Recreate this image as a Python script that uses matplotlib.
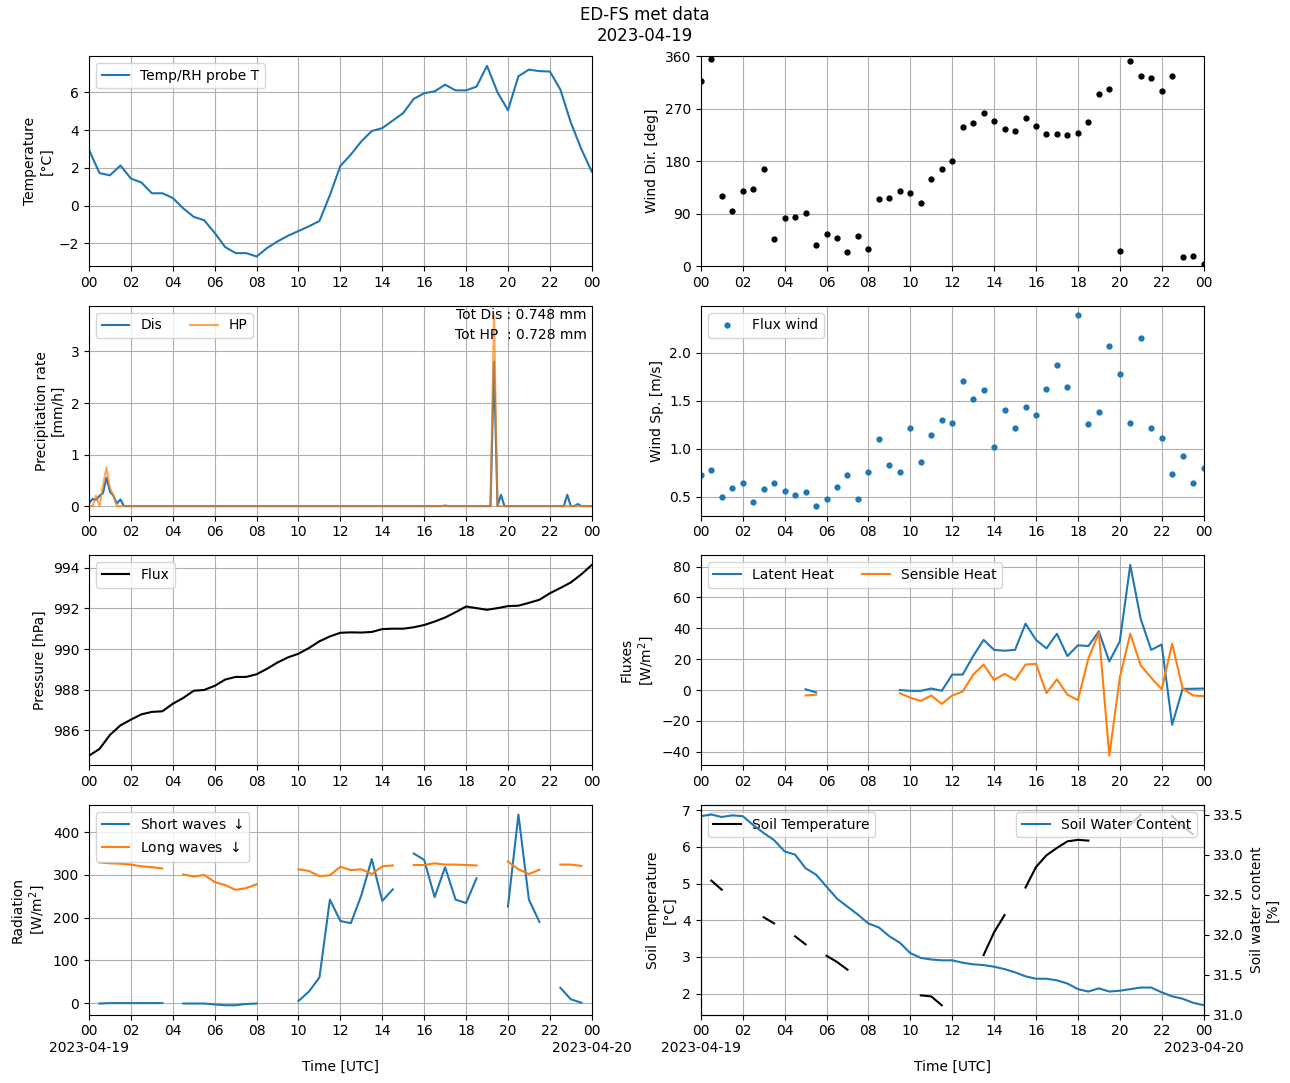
# plot.py
#   daily met data panels for ED-FS station (2023-04-19)

import numpy as np
import pandas as pd
import matplotlib
matplotlib.use('Agg')
from matplotlib import pyplot as plt, dates as mdates, ticker

DAY = '2023-04-19'
TITLE = 'ED-FS met data\n' + DAY

# 30 min data, 00:00 -> 24:00 (49 values)
temp_rh = [2.95, 1.72, 1.6, 2.12, 1.43, 1.22, 0.65, 0.65, 0.4, -0.15,
           -0.6, -0.78, -1.45, -2.2, -2.52, -2.52, -2.7, -2.25, -1.9, -1.6,
           -1.35, -1.1, -0.82, 0.55, 2.1, 2.7, 3.4, 3.95, 4.1, 4.5,
           4.9, 5.65, 5.95, 6.05, 6.4, 6.1, 6.1, 6.3, 7.4, 6.0,
           5.05, 6.85, 7.2, 7.12, 7.1, 6.15, 4.4, 3.0, 1.8]

wind_dir = [317, 355, 120, 94, 129, 132, 166, 46, 82, 84,
            91, 36, 55, 48, 24, 51, 30, 115, 117, 129,
            125, 108, 149, 166, 180, 239, 246, 263, 249, 235,
            232, 254, 241, 227, 227, 225, 228, 247, 296, 304,
            25, 352, 327, 323, 301, 327, 15, 18, 3]

wind_sp = [0.72, 0.78, 0.50, 0.59, 0.64, 0.44, 0.58, 0.64, 0.56, 0.52,
           0.55, 0.40, 0.47, 0.60, 0.72, 0.47, 0.76, 1.10, 0.83, 0.76,
           1.21, 0.86, 1.14, 1.30, 1.27, 1.71, 1.52, 1.61, 1.02, 1.40,
           1.22, 1.43, 1.35, 1.62, 1.87, 1.64, 2.39, 1.26, 1.38, 2.07,
           1.78, 1.27, 2.15, 1.22, 1.11, 0.73, 0.92, 0.64, 0.80]

pressure = [984.76, 985.09, 985.78, 986.25, 986.53, 986.79, 986.91, 986.94, 987.31, 987.6,
            987.95, 987.99, 988.19, 988.5, 988.63, 988.63, 988.76, 989.03, 989.34, 989.59,
            989.77, 990.05, 990.38, 990.62, 990.8, 990.82, 990.81, 990.84, 990.98, 991.0,
            991.0, 991.07, 991.18, 991.35, 991.55, 991.81, 992.09, 992.01, 991.93, 992.01,
            992.11, 992.13, 992.27, 992.42, 992.74, 993.0, 993.27, 993.67, 994.13]

nan = np.nan
latent = [nan, nan, nan, nan, nan, nan, nan, nan, nan, nan,
          0.5, -1.5, nan, nan, nan, nan, nan, nan, nan, 0.0,
          -0.5, -0.5, 1.0, -0.5, 10.0, 10.0, 22.0, 32.5, 26.0, 25.5,
          26.0, 43.0, 32.5, 27.0, 36.5, 22.0, 29.0, 28.5, 38.0, 18.5,
          31.5, 81.0, 46.0, 26.0, 29.5, -22.5, 0.8, 0.8, 1.0]
sensible = [nan, nan, nan, nan, nan, nan, nan, nan, nan, nan,
            -3.5, -3.0, nan, nan, nan, nan, nan, nan, nan, -2.0,
            -5.0, -7.0, -3.5, -9.0, -3.5, -1.0, 10.0, 16.5, 6.5, 10.5,
            6.5, 16.5, 17.0, -2.0, 7.0, -3.0, -6.5, 20.5, 37.0, -42.5,
            8.0, 36.5, 16.0, 8.0, 0.5, 30.0, 1.0, -3.5, -4.0]

short_wave = [nan, -1, 0, 0, 0, 0, 0, 0, nan, -1,
              -1, -1, -3, -5, -5, -2, -1, nan, nan, nan,
              5, 27, 60, 242, 192, 187, 252, 337, 239, 266,
              nan, 350, 335, 248, 318, 242, 234, 292, nan, nan,
              226, 441, 242, 190, nan, 36, 9, 1, nan]
long_wave = [nan, 329, 327, 326, 324, 320, 318, 315, nan, 301,
             296, 300, 283, 276, 265, 269, 278, nan, nan, nan,
             313, 309, 297, 299, 319, 311, 313, 302, 320, 322,
             nan, 323, 323, 327, 324, 324, 323, 322, nan, nan,
             331, 313, 302, 312, nan, 324, 324, 321, nan]

soil_temp = [nan, 5.08, 4.83, nan, nan, nan, 4.08, 3.91, nan, 3.56,
             3.34, nan, 3.03, 2.86, 2.65, nan, nan, nan, nan, nan,
             nan, 1.95, 1.92, 1.68, nan, nan, nan, 3.05, 3.67, 4.14,
             nan, 4.89, 5.45, 5.77, 5.97, 6.15, 6.19, 6.17, nan, nan,
             nan, 6.6, 6.88, nan, nan, 6.84, 6.56, 6.34, nan]
soil_water = [33.48, 33.50, 33.47, 33.49, 33.48, 33.37, 33.27, 33.18, 33.04, 33.0,
              32.83, 32.75, 32.6, 32.45, 32.35, 32.25, 32.14, 32.09, 31.98, 31.90,
              31.77, 31.71, 31.69, 31.68, 31.68, 31.65, 31.63, 31.62, 31.60, 31.57,
              31.53, 31.48, 31.45, 31.45, 31.43, 31.39, 31.32, 31.29, 31.33, 31.29,
              31.30, 31.32, 31.34, 31.34, 31.28, 31.23, 31.20, 31.15, 31.12]

# 10 min precipitation, only non zero records
dis_times = ['00:00', '00:10', '00:20', '00:30', '00:40', '00:50', '01:00', '01:10',
             '01:20', '01:30', '17:00', '19:20', '19:40', '22:50', '23:20']
dis_vals = [0.05, 0.14, 0.12, 0.2, 0.25, 0.55, 0.28, 0.2,
            0.05, 0.13, 0.01, 2.8, 0.22, 0.22, 0.04]
hp_times = ['00:20', '00:40', '00:50', '01:00', '01:10', '19:20']
hp_vals = [0.2, 0.4, 0.75, 0.35, 0.2, 3.7]
TOT_DIS = 0.748
TOT_HP = 0.728


def hour_fmt(x, pos=None):
    return mdates.num2date(x).strftime('%H')


def hour_date_fmt(x, pos=None):
    d = mdates.num2date(x)
    if d.hour == 0:
        return d.strftime('%H\n%Y-%m-%d')
    return d.strftime('%H')


def precip_series(index, times, vals):
    s = pd.Series(0.0, index=index)
    for t, v in zip(times, vals):
        s[pd.Timestamp(DAY + ' ' + t)] = v
    return s


def setup_time_axis(ax, t0, t1, bottom=False):
    ax.set_xlim(t0, t1)
    ax.xaxis.set_major_locator(mdates.HourLocator(byhour=range(0, 24, 2)))
    if bottom:
        ax.xaxis.set_major_formatter(ticker.FuncFormatter(hour_date_fmt))
        ax.set_xlabel('Time [UTC]')
    else:
        ax.xaxis.set_major_formatter(ticker.FuncFormatter(hour_fmt))
    ax.grid(True)


def main():
    t0 = pd.Timestamp(DAY)
    t1 = t0 + pd.Timedelta('1D')
    t = pd.date_range(t0, t1, freq='30min')
    tp = pd.date_range(t0, t1, freq='10min')
    dis = precip_series(tp, dis_times, dis_vals)
    hp = precip_series(tp, hp_times, hp_vals)

    fig, axs = plt.subplots(4, 2, figsize=(12.9, 10.83))
    fig.subplots_adjust(left=0.069, right=0.933, top=0.948, bottom=0.063,
                        wspace=0.217, hspace=0.19)
    fig.suptitle(TITLE, y=0.994)

    # temperature
    ax = axs[0, 0]
    ax.plot(t, temp_rh, label='Temp/RH probe T')
    ax.set_ylabel('Temperature\n[°C]')
    ax.legend(loc='upper left')
    setup_time_axis(ax, t0, t1)

    # wind direction
    ax = axs[0, 1]
    ax.plot(t, wind_dir, 'k.', ms=7)
    ax.set_ylim(0, 360)
    ax.set_yticks(range(0, 361, 90))
    ax.set_ylabel('Wind Dir. [deg]')
    setup_time_axis(ax, t0, t1)

    # precipitation
    ax = axs[1, 0]
    ax.plot(dis.index, dis.values, label='Dis')
    ax.plot(hp.index, hp.values, label='HP', alpha=0.7)
    ax.set_ylabel('Precipitation rate\n[mm/h]')
    ax.legend(loc='upper left', ncol=2)
    ax.text(0.99, 0.988, f'Tot Dis : {TOT_DIS:.3f} mm', ha='right', va='top',
            transform=ax.transAxes)
    ax.text(0.99, 0.893, f'Tot HP  : {TOT_HP:.3f} mm', ha='right', va='top',
            transform=ax.transAxes)
    setup_time_axis(ax, t0, t1)

    # wind speed
    ax = axs[1, 1]
    ax.plot(t, wind_sp, '.', ms=7, label='Flux wind')
    ax.set_ylabel('Wind Sp. [m/s]')
    ax.legend(loc='upper left')
    setup_time_axis(ax, t0, t1)

    # pressure
    ax = axs[2, 0]
    ax.plot(t, pressure, 'k', label='Flux')
    ax.set_ylabel('Pressure [hPa]')
    ax.legend(loc='upper left')
    setup_time_axis(ax, t0, t1)

    # heat fluxes
    ax = axs[2, 1]
    ax.plot(t, latent, label='Latent Heat')
    ax.plot(t, sensible, label='Sensible Heat')
    ax.set_ylabel('Fluxes\n[W/m$^2$]')
    ax.legend(loc='upper left', ncol=2)
    setup_time_axis(ax, t0, t1)

    # radiation
    ax = axs[3, 0]
    ax.plot(t, short_wave, label='Short waves $\\downarrow$')
    ax.plot(t, long_wave, label='Long waves $\\downarrow$')
    ax.set_ylabel('Radiation\n[W/m$^2$]')
    ax.legend(loc='upper left')
    setup_time_axis(ax, t0, t1, bottom=True)

    # soil
    ax = axs[3, 1]
    ax.plot(t, soil_temp, 'k', label='Soil Temperature')
    ax.set_ylabel('Soil Temperature\n[°C]')
    ax.legend(loc='upper left')
    setup_time_axis(ax, t0, t1, bottom=True)
    ax2 = ax.twinx()
    ax2.plot(t, soil_water, label='Soil Water Content')
    ax2.set_ylabel('Soil water content\n[%]')
    ax2.legend(loc='upper right')
    ax2.set_xlim(t0, t1)
    lo, hi = ax2.get_ylim()
    ax2.set_ylim(min(lo, 31.0), hi)

    fig.savefig('out.png', dpi=100)


if __name__ == '__main__':
    main()
